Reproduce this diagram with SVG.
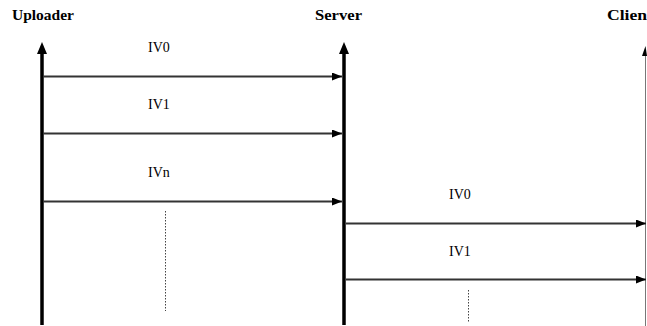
<svg xmlns="http://www.w3.org/2000/svg" width="647" height="326" viewBox="0 0 647 326">
  <style>
    .hdr { font-family: "Liberation Serif", "Times New Roman", serif; font-weight: bold; font-size: 14.5px; fill: #000; }
    .lbl { font-family: "Liberation Serif", "Times New Roman", serif; font-size: 14px; fill: #000; }
    .life { stroke: #000; stroke-width: 3.5; fill: none; }
    .life-thin { stroke: #777; stroke-width: 1; fill: none; }
    .msg { stroke: #333; stroke-width: 1.8; fill: none; }
    .dots { stroke: #444; stroke-width: 1; stroke-dasharray: 1.5 1.5; fill: none; }
  </style>
  <defs>
    <marker id="head-msg" markerWidth="10" markerHeight="8" refX="10" refY="4" orient="auto" markerUnits="userSpaceOnUse">
      <path d="M0,0 L10,4 L0,8 Z" fill="#000"/>
    </marker>
  </defs>

  <rect width="647" height="326" fill="#fff"/>

  <!-- Uploader lifeline -->
  <g id="uploader">
    <text class="hdr" x="12" y="20" textLength="62" lengthAdjust="spacingAndGlyphs">Uploader</text>
    <line class="life" x1="42" y1="52" x2="42" y2="325"/>
    <path d="M42,42 L37,54 L47,54 Z" fill="#000"/>
  </g>

  <!-- Server lifeline -->
  <g id="server">
    <text class="hdr" x="315" y="20" textLength="47" lengthAdjust="spacingAndGlyphs">Server</text>
    <line class="life" x1="344" y1="52" x2="344" y2="325"/>
    <path d="M344,42 L339,54 L349,54 Z" fill="#000"/>
  </g>

  <!-- Client lifeline -->
  <g id="client">
    <text class="hdr" x="607" y="20" textLength="46" lengthAdjust="spacingAndGlyphs">Client</text>
    <line class="life-thin" x1="645.5" y1="54" x2="645.5" y2="326"/>
    <path d="M645.5,46 L642,56 L647,56 Z" fill="#000"/>
  </g>

  <!-- messages -->
  <g id="connectors">
    <line class="msg" x1="43" y1="76.5" x2="342" y2="76.5" marker-end="url(#head-msg)"/>
    <line class="msg" x1="43" y1="133.5" x2="342" y2="133.5" marker-end="url(#head-msg)"/>
    <line class="msg" x1="43" y1="201.5" x2="342" y2="201.5" marker-end="url(#head-msg)"/>
    <line class="msg" x1="346" y1="223.5" x2="646" y2="223.5" marker-end="url(#head-msg)"/>
    <line class="msg" x1="346" y1="279.5" x2="646" y2="279.5" marker-end="url(#head-msg)"/>
    <line class="dots" x1="165.5" y1="211" x2="165.5" y2="311"/>
    <line class="dots" x1="468.5" y1="290" x2="468.5" y2="322"/>
  </g>

  <!-- message labels -->
  <g id="labels">
    <text class="lbl" x="148" y="52">IV0</text>
    <text class="lbl" x="148" y="109">IV1</text>
    <text class="lbl" x="148" y="177">IVn</text>
    <text class="lbl" x="449" y="199">IV0</text>
    <text class="lbl" x="449" y="256">IV1</text>
  </g>
</svg>
